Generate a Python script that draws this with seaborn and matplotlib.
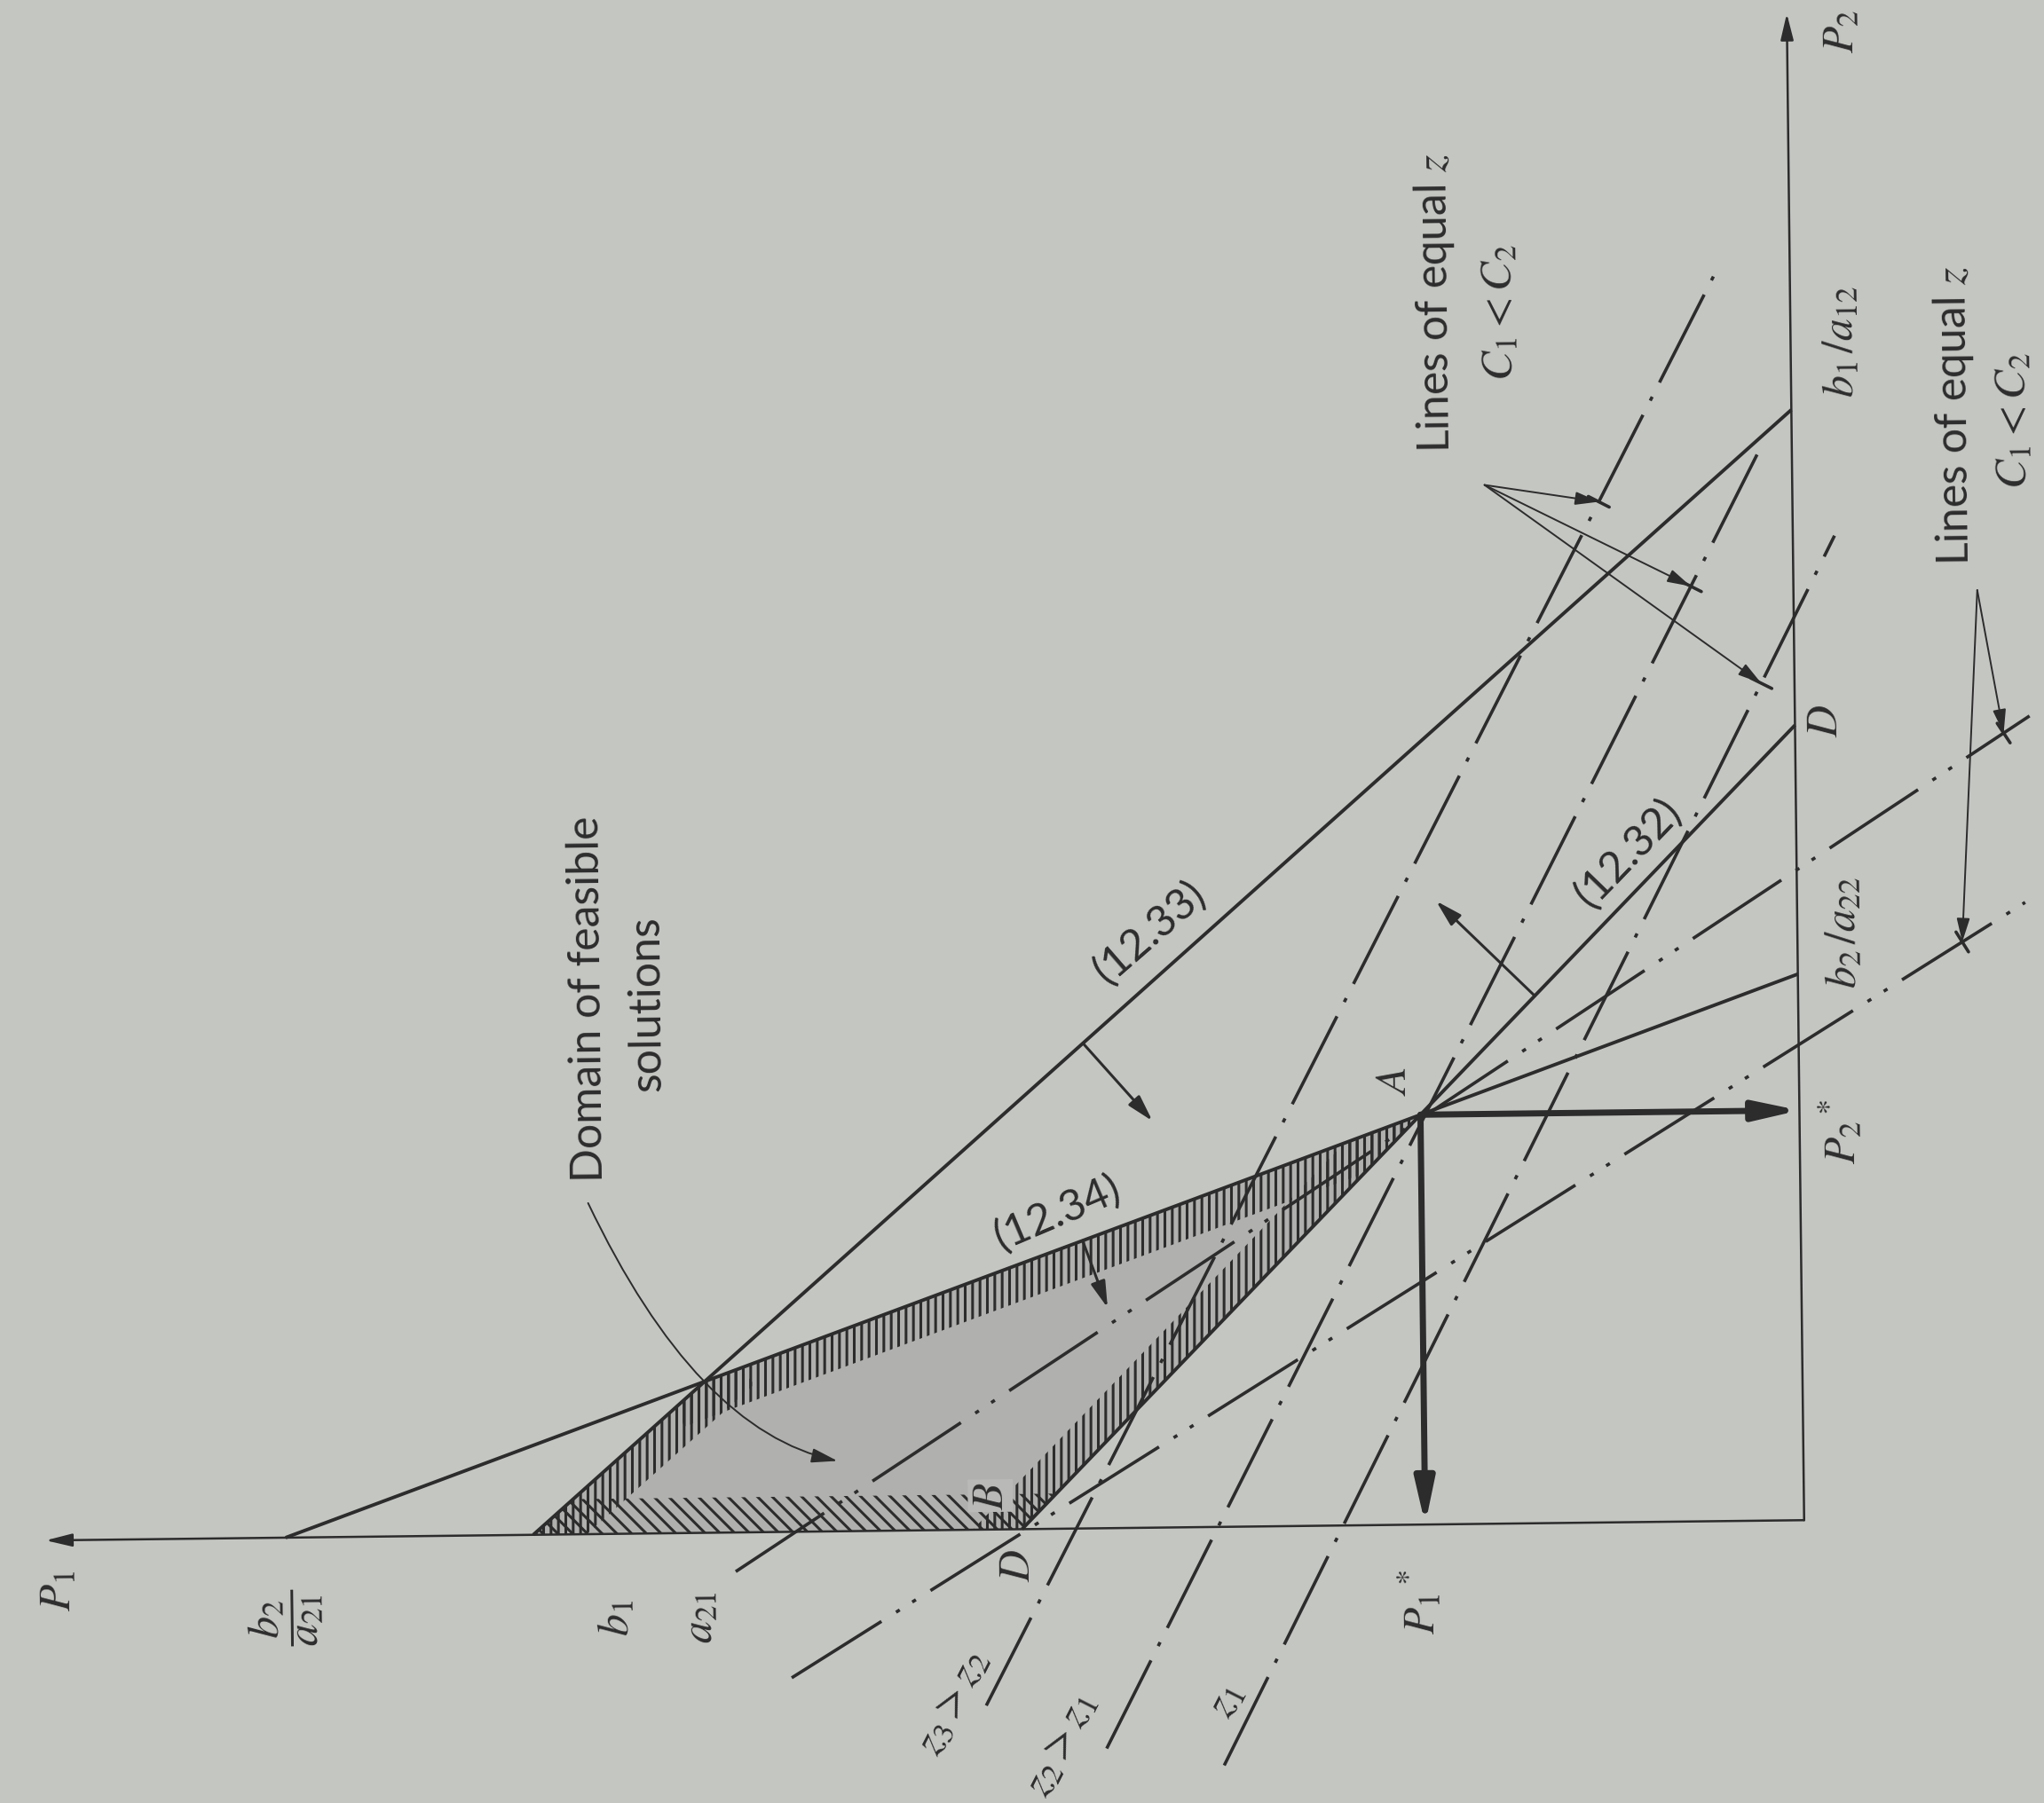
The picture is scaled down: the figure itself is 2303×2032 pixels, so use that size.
import numpy as np
import matplotlib
matplotlib.use("Agg")
import matplotlib.pyplot as plt
import matplotlib.transforms as mtransforms
from matplotlib.patches import Polygon, FancyArrowPatch
from matplotlib.path import Path
import seaborn as sns

# ---- diagram values (P1 along the page's long edge, P2 up) ----
# constraint lines, as (intercept on P1 axis, intercept on P2 axis)
c32 = (600, 610)      # (12.32)
c33 = (975, 852)      # (12.33)
c34 = (1165, 419)     # (12.34)
p1_axis_len = 1349
p2_axis_len = 1156

# lines of equal z, steep family z3, z2, z1 (start, end)
steep_p1 = [[629, 57], [537, 22], [447, -32]]
steep_p2 = [[-135, 958], [-169, 827], [-183, 755]]
steep_mark = [0.84, 0.89, 0.88]

# lines of equal z, shallow family (start, end)
flat_p1 = [[820, -180], [778, -175]]
flat_p2 = [[-30, 615], [-112, 472]]
flat_mark = [0.98, 0.949]

# ---- layout ----
page_tilt = 0.66
paper = "#c4c6c2"
ink = "#2c2c2c"

label_text = ["$P_1$", "$P_2$", r"$\dfrac{b_2}{a_{21}}$", "$b_1$", "$a_{21}$",
              "$D$", "$B$", "$A$", "$P_1{}^*$", "$P_2{}^*$",
              r"$b_2\,/a_{22}$", "$D$", r"$b_1\,/a_{12}$"]
label_p1 = [1340, -41, 1166, 912, 848, 604, 624, 311, 296, -31, -35, -23, -38]
label_p2 = [-38, 1142, -61, -64, -64, -27, 26, 341, -59, 298, 451, 614, 904]

eq_text = ["(12.33)", "(12.34)", "(12.32)"]
eq_p1 = [497, 570, 129]
eq_p2 = [458, 243, 514]
eq_rot = [41, 23, 46]

z_text = ["$z_3 > z_2$", "$z_2 > z_1$", "$z_1$"]
z_p1 = [656, 573, 446]
z_p2 = [-131, -165, -132]

word_text = ["Lines of equal $z$", "$C_1 < C_2$", "Lines of equal $z$", "$C_1 < C_2$",
             "Domain of feasible", "solutions"]
word_p1 = [272, 223, -125, -170, 928, 883]
word_p2 = [938, 930, 847, 842, 411, 407]

sns.set_theme(style="white")
plt.rcParams["font.family"] = ["Lato", "DejaVu Sans"]
plt.rcParams["mathtext.fontset"] = "stix"
plt.rcParams["lines.scale_dashes"] = False
plt.rcParams["hatch.linewidth"] = 2.2
plt.rcParams["hatch.color"] = ink

fig = plt.figure(figsize=(23.03, 20.33), dpi=100, facecolor=paper)
ax = fig.add_axes([0, 0, 1, 1])
ax.set_facecolor(paper)
ax.set_autoscale_on(False)
ax.set_xlim(1384, -184)
ax.set_ylim(-217, 1167)
ax.axis("off")

ox, oy = ax.transData.transform((0, 0))
T = ax.transData + mtransforms.Affine2D().rotate_deg_around(ox, oy, page_tilt)


def meet(a, b):
    m = np.array([[1 / a[0], 1 / a[1]], [1 / b[0], 1 / b[1]]])
    return np.linalg.solve(m, np.ones(2))


def arrow(tail, head, lw, ms, hl, hw, z=5):
    ax.annotate("", xy=head, xytext=tail, xycoords=T, textcoords=T,
                arrowprops=dict(arrowstyle=f"-|>,head_length={hl},head_width={hw}",
                                color=ink, lw=lw, mutation_scale=ms,
                                shrinkA=0, shrinkB=0), zorder=z)


A = meet(c32, c34)
X = meet(c33, c34)
region = np.array([[c32[0], 0], [c33[0], 0], X, A])

# feasible domain: grey fill with hatched borders
reg = Polygon(region, closed=True, transform=T, facecolor="#b0b1ae",
              edgecolor="none", zorder=1)
ax.add_patch(reg)
cen = region.mean(axis=0)
w = 27
for i in range(4):
    a, b = region[i], region[(i + 1) % 4]
    d = (b - a) / np.hypot(*(b - a))
    n = np.array([-d[1], d[0]])
    if n @ (cen - a) < 0:
        n = -n
    band = [a - d * w, b + d * w, b + d * w + n * w, a - d * w + n * w]
    p = Polygon(band, closed=True, transform=T, facecolor="none", edgecolor=ink,
                lw=0, hatch="\\\\" if i == 0 else "||", zorder=2)
    ax.add_patch(p)
    p.set_clip_path(reg)

# axes
arrow((0, 0), (p1_axis_len, 0), 1.8, 20, 0.9, 0.22)
arrow((0, 0), (0, p2_axis_len), 1.8, 20, 0.9, 0.22)

# constraint lines
for c in (c32, c33, c34):
    ax.plot([c[0], 0], [0, c[1]], transform=T, color=ink, lw=2.8,
            solid_capstyle="butt", zorder=4)

# normals showing the feasible side
for c, base, length, sgn in ((c33, 549, 80, -1), (c34, 551, 55, -1), (c32, 202, 105, 1)):
    p0 = np.array([base, c[1] * (1 - base / c[0])])
    nv = np.array([1 / c[0], 1 / c[1]])
    nv = nv / np.hypot(*nv)
    arrow(p0, p0 + sgn * length * nv, 2.2, 20, 0.9, 0.25)

# optimum
arrow(A, (A[0], 0), 5, 30, 1.0, 0.22, z=6)
arrow(A, (0, A[1]), 5, 30, 1.0, 0.22, z=6)

# lines of equal z
steep_ls = (0, (80, 13, 3.5, 13))
flat_ls = (0, (86, 14, 3.5, 12, 3.5, 14))
steep_hits = []
for xs, ys, t in zip(steep_p1, steep_p2, steep_mark):
    ax.plot(xs, ys, transform=T, color=ink, lw=2.6, ls=steep_ls, zorder=4)
    s, e = np.array([xs[0], ys[0]]), np.array([xs[1], ys[1]])
    steep_hits.append((s + t * (e - s), (e - s) / np.hypot(*(e - s))))
flat_hits = []
for xs, ys, t in zip(flat_p1, flat_p2, flat_mark):
    ax.plot(xs, ys, transform=T, color=ink, lw=2.6, ls=flat_ls, zorder=4)
    s, e = np.array([xs[0], ys[0]]), np.array([xs[1], ys[1]])
    flat_hits.append((s + t * (e - s), (e - s) / np.hypot(*(e - s))))

for lead, hits in (((236, 797), steep_hits), ((-141, 712), flat_hits)):
    for pt, d in hits:
        nrm = np.array([-d[1], d[0]])
        ax.plot([pt[0] - 9 * nrm[0], pt[0] + 9 * nrm[0]],
                [pt[1] - 9 * nrm[1], pt[1] + 9 * nrm[1]],
                transform=T, color=ink, lw=2.6, zorder=4)
        arrow(lead, pt, 1.4, 18, 0.9, 0.25)

# curved leader for the feasible domain
S, E = np.array([930, 254]), np.array([741, 54])
C = 2 * X - 0.5 * (S + E)
lead = FancyArrowPatch(path=Path([S, C, E], [Path.MOVETO, Path.CURVE3, Path.CURVE3]),
                       arrowstyle="-|>,head_length=0.9,head_width=0.25",
                       mutation_scale=20, lw=1.4, color=ink, transform=T, zorder=5)
ax.add_patch(lead)

# text
for s, x, y in zip(label_text, label_p1, label_p2):
    box = dict(boxstyle="square,pad=0.05", fc="#b9bab7", ec="none") if s == "$B$" else None
    ax.text(x, y, s, transform=T, rotation=90 + page_tilt, rotation_mode="anchor",
            ha="center", va="center", fontsize=36, color=ink, zorder=7, bbox=box)
for s, x, y, r in zip(eq_text, eq_p1, eq_p2, eq_rot):
    ax.text(x, y, s, transform=T, rotation=r, rotation_mode="anchor",
            ha="center", va="center", fontsize=35, color=ink, zorder=7)
for s, x, y in zip(z_text, z_p1, z_p2):
    ax.text(x, y, s, transform=T, rotation=63, rotation_mode="anchor",
            ha="center", va="center", fontsize=36, color=ink, zorder=7)
for s, x, y in zip(word_text, word_p1, word_p2):
    ax.text(x, y, s, transform=T, rotation=90 + page_tilt, rotation_mode="anchor",
            ha="center", va="center", fontsize=36, color=ink, zorder=7)

fig.savefig("out.png", dpi=100, facecolor=paper)
